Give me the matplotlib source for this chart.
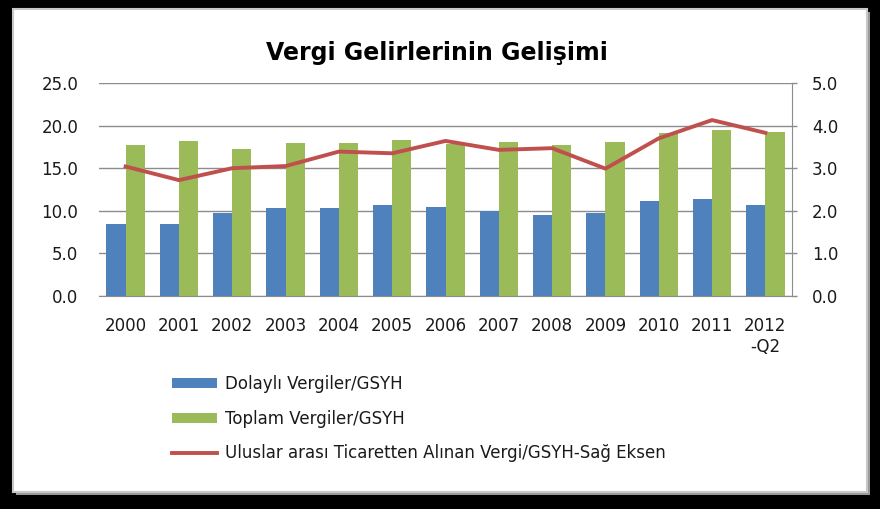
import matplotlib
matplotlib.use("Agg")
import matplotlib.pyplot as plt
from matplotlib.patches import Rectangle
import numpy as np

plt.rcParams["font.family"] = ["DejaVu Sans"]

years = ["2000", "2001", "2002", "2003", "2004", "2005", "2006", "2007",
         "2008", "2009", "2010", "2011", "2012\n-Q2"]
dolayli = [8.5, 8.5, 9.7, 10.3, 10.3, 10.7, 10.5, 10.0, 9.5, 9.7, 11.2, 11.4, 10.7]
toplam = [17.7, 18.2, 17.2, 18.0, 17.9, 18.3, 17.8, 18.1, 17.7, 18.1, 19.1, 19.5, 19.3]
ticaret = [3.04, 2.72, 3.00, 3.05, 3.39, 3.35, 3.64, 3.43, 3.47, 2.99, 3.70, 4.13, 3.83]

labels = ["Dolaylı Vergiler/GSYH", "Toplam Vergiler/GSYH",
          "Uluslar arası Ticaretten Alınan Vergi/GSYH-Sağ Eksen"]

BLUE = "#4F81BD"
GREEN = "#9BBB59"
RED = "#C0504D"
GRID = "#8C8C8C"
TXT = "#1A1A1A"

W, H = 880, 509
fig = plt.figure(figsize=(W / 100, H / 100), dpi=100)
fig.patch.set_facecolor("black")

# shadow and white panel
fig.patches.append(Rectangle((16 / W, 1 - 495 / H), 854 / W, 483 / H,
                             transform=fig.transFigure, facecolor="#9a9a9a",
                             edgecolor="none", zorder=-2))
fig.patches.append(Rectangle((13 / W, 1 - 492 / H), 854 / W, 483 / H,
                             transform=fig.transFigure, facecolor="white",
                             edgecolor="#c8c8c8", linewidth=1.5, zorder=-1))

ax = fig.add_axes([99 / W, 1 - 296 / H, (792 - 99) / W, (296 - 83) / H])
ax.set_facecolor("none")
x = np.arange(len(years))
bw = 0.36
ax.bar(x - bw / 2, dolayli, width=bw, color=BLUE, label=labels[0], zorder=2)
ax.bar(x + bw / 2, toplam, width=bw, color=GREEN, label=labels[1], zorder=2)
ax.set_xlim(-0.5, len(years) - 0.5)
ax.set_ylim(0, 25)
ax.set_yticks(np.arange(0, 25.1, 5))
ax.set_yticklabels([f"{v:.1f}" for v in np.arange(0, 25.1, 5)])
ax.yaxis.grid(True, color=GRID, linewidth=1.0, zorder=0)
ax.set_axisbelow(True)
ax.set_xticks(x)
ax.set_xticklabels(years)
for s in ["left", "top", "right"]:
    ax.spines[s].set_visible(False)
ax.spines["bottom"].set_color(GRID)
ax.tick_params(axis="y", length=0, pad=15, labelsize=12, labelcolor=TXT)
ax.tick_params(axis="x", length=0, pad=15, labelsize=12, labelcolor=TXT)

ax2 = ax.twinx()
ax2.plot(x, ticaret, color=RED, linewidth=2.8, label=labels[2], zorder=3,
         solid_joinstyle="round")
ax2.set_ylim(0, 5)
ax2.set_yticks(np.arange(0, 5.1, 1))
ax2.set_yticklabels([f"{v:.1f}" for v in np.arange(0, 5.1, 1)])
for s in ["left", "top", "bottom"]:
    ax2.spines[s].set_visible(False)
ax2.spines["right"].set_color(GRID)
ax2.tick_params(axis="y", length=3.5, width=1, color=GRID, pad=11,
                labelsize=12, labelcolor=TXT)

fig.text(437 / W, 1 - 53 / H, "Vergi Gelirlerinin Gelişimi", ha="center",
         va="center", fontsize=17, fontweight="bold", color="black")

h1, l1 = ax.get_legend_handles_labels()
h2, l2 = ax2.get_legend_handles_labels()
leg = fig.legend(h1 + h2, l1 + l2, loc="upper left",
                 bbox_to_anchor=(157 / W, 1 - 360 / H), frameon=False,
                 fontsize=12, handlelength=2.7, handleheight=0.55,
                 handletextpad=0.45, labelspacing=1.0, labelcolor=TXT)

fig.savefig("out.png", dpi=100, facecolor=fig.get_facecolor())
